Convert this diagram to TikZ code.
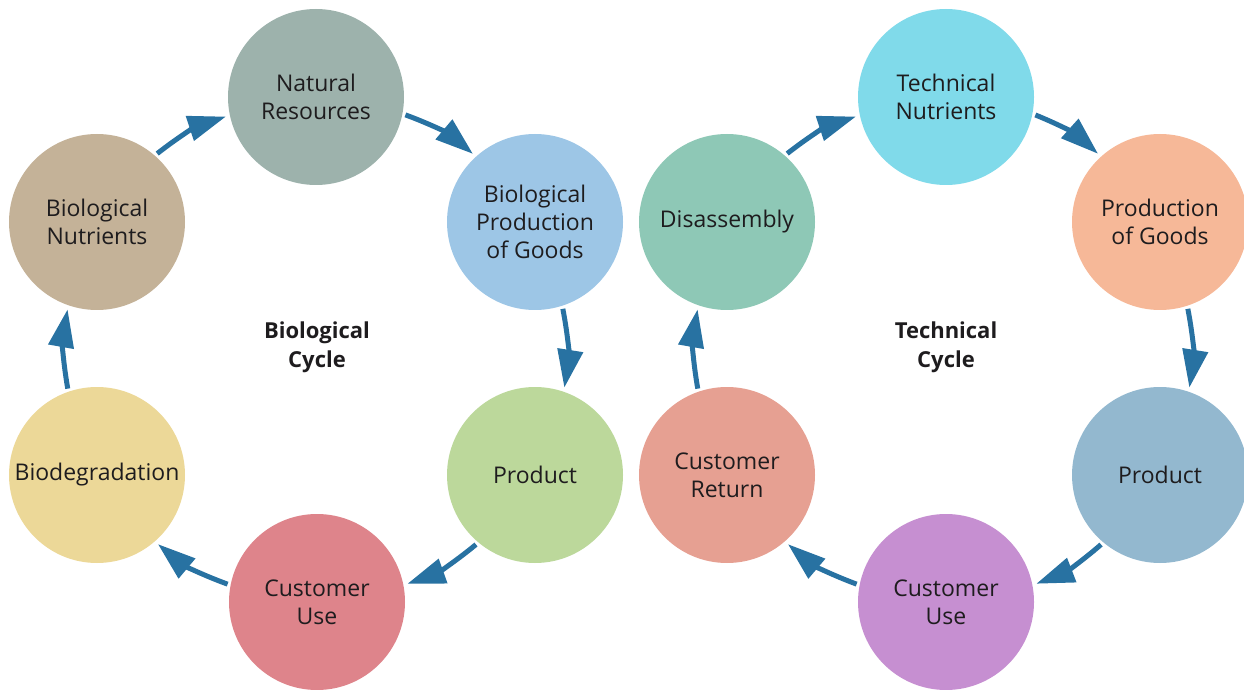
\documentclass[tikz,border=0pt]{standalone}
\usepackage{fontspec}
\setmainfont{Open Sans}
\usetikzlibrary{arrows.meta}
\definecolor{arr}{RGB}{40,114,162}
\definecolor{txt}{RGB}{30,28,30}
\definecolor{cNR}{RGB}{157,178,172}
\definecolor{cBN}{RGB}{196,178,152}
\definecolor{cBPG}{RGB}{157,198,230}
\definecolor{cBD}{RGB}{236,216,152}
\definecolor{cPL}{RGB}{188,216,155}
\definecolor{cCUL}{RGB}{222,132,139}
\definecolor{cTN}{RGB}{128,218,234}
\definecolor{cDIS}{RGB}{142,200,182}
\definecolor{cPOG}{RGB}{246,184,152}
\definecolor{cCR}{RGB}{230,160,146}
\definecolor{cPR}{RGB}{147,184,207}
\definecolor{cCUR}{RGB}{198,143,209}
\tikzset{
  circ/.style={circle, minimum size=176pt, inner sep=0pt, fill=#1, text=txt,
    align=center, font=\fontsize{23}{28}\selectfont},
  cyclelabel/.style={align=center, text=txt, font=\fontsize{22}{29}\selectfont\bfseries},
  flow/.style={draw=arr, line width=5pt, shorten <=3pt, shorten >=4pt,
    -{Triangle[length=38pt,width=25pt]}, bend left=10}
}
\begin{document}
\begin{tikzpicture}[x=1pt,y=1pt]
\useasboundingbox (0,0) rectangle (1244,689);
% biological cycle
\node[circ=cNR]  (nr)   at (316,592) {Natural\\Resources};
\node[circ=cBN]  (bn)   at (97,467)  {Biological\\Nutrients};
\node[circ=cBPG] (bpg)  at (535,467) {Biological\\Production\\of Goods};
\node[circ=cBD]  (bd)   at (97,214)  {Biodegradation};
\node[circ=cPL]  (prod) at (535,214) {Product};
\node[circ=cCUL] (cu)   at (317,87)  {Customer\\Use};
\node[cyclelabel] (bl) at (317,342) {Biological\\Cycle};
% technical cycle
\node[circ=cTN]  (tn)    at (946,592)  {Technical\\Nutrients};
\node[circ=cDIS] (dis)   at (727,467)  {Disassembly};
\node[circ=cPOG] (pog)   at (1160,467) {Production\\of Goods};
\node[circ=cCR]  (cr)    at (727,214)  {Customer\\Return};
\node[circ=cPR]  (rprod) at (1160,214) {Product};
\node[circ=cCUR] (rcu)   at (946,87)   {Customer\\Use};
\node[cyclelabel] (tl) at (946,342) {Technical\\Cycle};
% arrows
\draw[flow] (bn.49) to (nr.192);
\draw[flow] (nr.-11) to (bpg.132);
\draw[flow] (bpg.-72) to (prod.71);
\draw[flow] (prod.230) to (cu.11);
\draw[flow] (cu.169) to (bd.-49);
\draw[flow] (bd.109) to (bn.251);
\draw[flow] (dis.49) to (tn.192);
\draw[flow] (tn.-11) to (pog.132);
\draw[flow] (pog.-72) to (rprod.71);
\draw[flow] (rprod.230) to (rcu.11);
\draw[flow] (rcu.169) to (cr.-49);
\draw[flow] (cr.109) to (dis.251);
\end{tikzpicture}
\end{document}
